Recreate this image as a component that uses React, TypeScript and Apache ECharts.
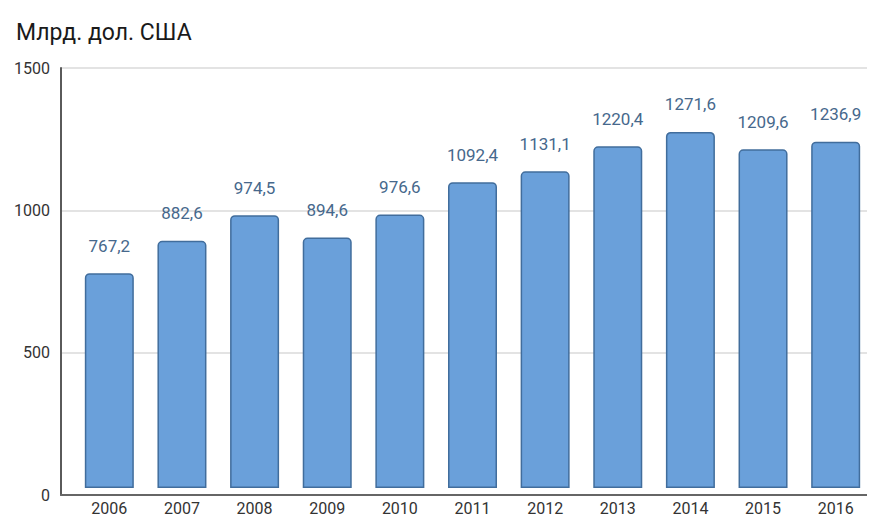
import React, { useEffect, useRef } from "react";
import * as echarts from "echarts";

const years = ["2006", "2007", "2008", "2009", "2010", "2011", "2012", "2013", "2014", "2015", "2016"];
const values = [767.2, 882.6, 974.5, 894.6, 976.6, 1092.4, 1131.1, 1220.4, 1271.6, 1209.6, 1236.9];
const yTicks = { min: 0, max: 1500, interval: 500 };
const titleText = "Млрд. дол. США";

export default function App() {
  const ref = useRef<HTMLDivElement>(null);
  useEffect(() => {
    if (!ref.current) return;
    const chart = echarts.init(ref.current, undefined, { renderer: "svg" });
    const font = "Roboto, 'Noto Sans', sans-serif";
    chart.setOption({
      animation: false,
      backgroundColor: "#ffffff",
      title: {
        text: titleText,
        left: 3,
        top: 8,
        textStyle: { fontFamily: font, fontSize: 23, fontWeight: "normal", color: "#1a1a1a" },
      },
      grid: [
        { left: 53, right: 3, top: 60, bottom: 21, containLabel: false },
        { left: 65, right: 3, top: 60, bottom: 21, containLabel: false },
      ],
      xAxis: [
        {
          type: "category",
          gridIndex: 0,
          data: years,
          axisLine: { show: true, lineStyle: { color: "#666", width: 2 } },
          axisTick: { show: false },
          axisLabel: { show: false },
          splitLine: { show: false },
        },
        {
          type: "category",
          gridIndex: 1,
          data: years,
          axisLine: { show: false },
          axisTick: { show: false },
          axisLabel: { color: "#333", fontFamily: font, fontSize: 16, margin: 12 },
        },
      ],
      yAxis: [
        {
          type: "value",
          gridIndex: 0,
          min: yTicks.min,
          max: yTicks.max,
          interval: yTicks.interval,
          axisLine: { show: true, lineStyle: { color: "#5a5a5a", width: 2 } },
          axisTick: { show: false },
          axisLabel: {
            color: "#333",
            fontFamily: font,
            fontSize: 16,
            margin: 11,
            formatter: (v: number) => String(v),
          },
          splitLine: { show: true, lineStyle: { color: "#dadada", width: 1.5 } },
        },
        {
          type: "value",
          gridIndex: 1,
          min: yTicks.min,
          max: yTicks.max,
          interval: yTicks.interval,
          show: false,
        },
      ],
      series: [
        {
          type: "bar",
          xAxisIndex: 1,
          yAxisIndex: 1,
          data: values,
          barWidth: 49,
          itemStyle: {
            color: "#6aa0da",
            borderColor: "#416d9c",
            borderWidth: 1.5,
            borderRadius: [4, 4, 0, 0],
          },
          label: {
            show: true,
            position: "top",
            distance: 19,
            color: "#46688c",
            fontFamily: font,
            fontSize: 17,
            formatter: (p: any) => String(p.value).replace(".", ","),
          },
        },
      ],
    });
    return () => chart.dispose();
  }, []);
  return <div ref={ref} style={{ width: 867, height: 508 }} />;
}
